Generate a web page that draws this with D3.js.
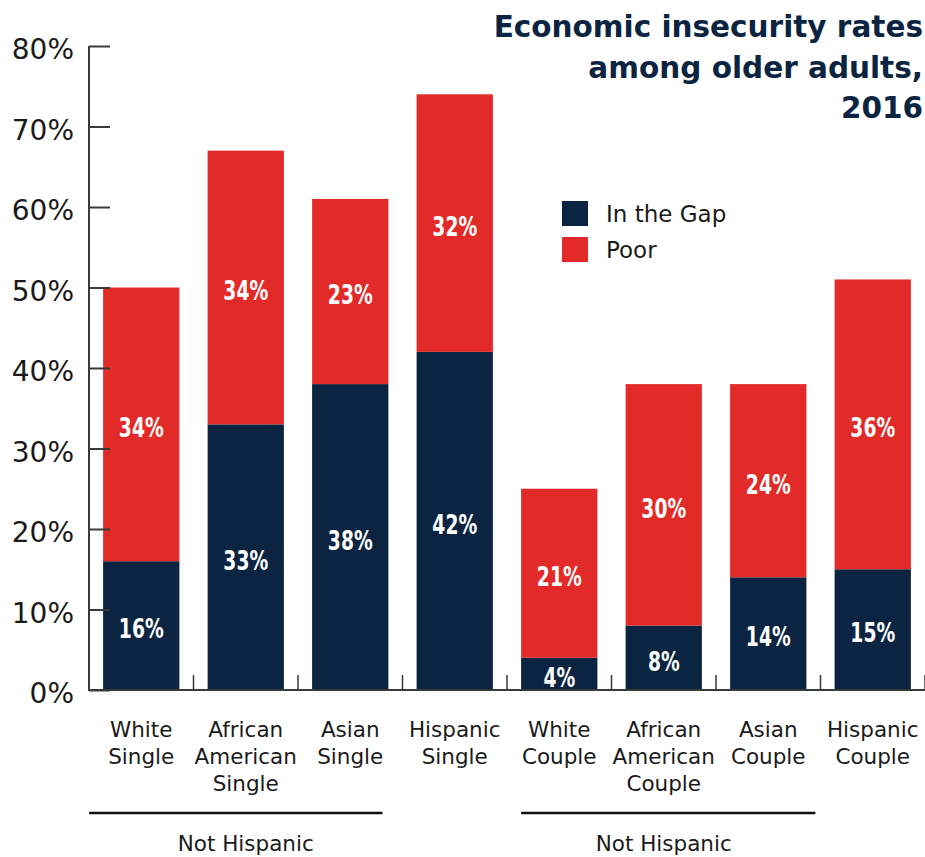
<!DOCTYPE html>
<html lang="en">
<head>
    <meta charset="UTF-8">
    <title>Economic insecurity rates</title>
    <script src="https://d3js.org/d3.v7.min.js"></script>
    <style>
        body { margin: 0; background: #fff; }
        svg { display: block; }
        .axis-text { font-family: "DejaVu Sans", sans-serif; fill: #1a1a1a; }
        .bar-label { font-family: "Liberation Sans Narrow", "DejaVu Sans Condensed", "DejaVu Sans", sans-serif;
                     font-stretch: condensed; font-weight: bold; fill: #fff; }
    </style>
</head>
<body>
<svg width="925" height="857"></svg>
<script>

    // data
    var categories = ["White Single", "African American Single", "Asian Single", "Hispanic Single",
                      "White Couple", "African American Couple", "Asian Couple", "Hispanic Couple"];
    var categoryLines = [["White", "Single"], ["African", "American", "Single"], ["Asian", "Single"], ["Hispanic", "Single"],
                         ["White", "Couple"], ["African", "American", "Couple"], ["Asian", "Couple"], ["Hispanic", "Couple"]];
    var inTheGap = [16, 33, 38, 42, 4, 8, 14, 15];
    var poor = [34, 34, 23, 32, 21, 30, 24, 36];
    var yTicks = [0, 10, 20, 30, 40, 50, 60, 70, 80];
    var seriesNames = ["In the Gap", "Poor"];
    var titleLines = ["Economic insecurity rates", "among older adults,", "2016"];
    var groups = [
        {label: "Not Hispanic", from: "White Single", to: "Asian Single"},
        {label: "Not Hispanic", from: "White Couple", to: "Asian Couple"}
    ];

    var colors = {"In the Gap": "#0b2441", "Poor": "#e22b28"};

    var svg = d3.select("svg");
    var plotLeft = 89, plotRight = 925, plotTop = 46, plotBottom = 690;

    var x = d3.scaleBand().domain(categories).range([plotLeft, plotRight])
        .paddingInner(0.27).paddingOuter(0.135);
    var y = d3.scaleLinear().domain([0, 80]).range([plotBottom, plotTop]);

    var rows = categories.map(function(c, i) {
        return {cat: c, gap: inTheGap[i], poor: poor[i]};
    });

    // stacked bars
    var stack = d3.stack().keys(["gap", "poor"])(rows);
    var layer = svg.append("g").selectAll("g")
        .data(stack)
        .enter().append("g")
        .attr("fill", function(d, i) { return colors[seriesNames[i]]; });

    layer.selectAll("rect")
        .data(function(d) { return d; })
        .enter().append("rect")
        .attr("x", function(d) { return x(d.data.cat); })
        .attr("y", function(d) { return y(d[1]); })
        .attr("width", x.bandwidth())
        .attr("height", function(d) { return y(d[0]) - y(d[1]); });

    // condensed white value labels (squeezed horizontally)
    layer.selectAll("text")
        .data(function(d) { return d; })
        .enter().append("text")
        .attr("class", "bar-label")
        .attr("transform", function(d) {
            var cx = x(d.data.cat) + x.bandwidth() / 2,
                cy = (y(d[0]) + y(d[1])) / 2 + 4;
            return "translate(" + cx + "," + cy + ") scale(0.8,1)";
        })
        .attr("text-anchor", "middle")
        .attr("dominant-baseline", "central")
        .attr("font-size", 26)
        .text(function(d) { return (d[1] - d[0]) + "%"; });

    // y axis
    var yAxis = svg.append("g")
        .attr("transform", "translate(" + plotLeft + ",0)")
        .call(d3.axisLeft(y).tickValues(yTicks).tickSize(-21).tickPadding(15)
            .tickFormat(function(d) { return d + "%"; }));
    yAxis.select(".domain").attr("stroke", "#3a3a3a").attr("stroke-width", 2)
        .attr("d", "M0," + plotTop + "V" + plotBottom);
    yAxis.selectAll(".tick line").attr("stroke", "#3a3a3a").attr("stroke-width", 2);
    yAxis.selectAll(".tick text").attr("class", "axis-text").attr("font-size", 28)
        .attr("dy", "0.45em");

    // x axis line and boundary ticks
    var step = x.step();
    svg.append("line")
        .attr("x1", plotLeft - 1).attr("x2", plotRight)
        .attr("y1", plotBottom).attr("y2", plotBottom)
        .attr("stroke", "#3a3a3a").attr("stroke-width", 2);
    svg.append("g").selectAll("line")
        .data(categories)
        .enter().append("line")
        .attr("x1", function(d) { return x(d) + x.bandwidth() / 2 + step / 2; })
        .attr("x2", function(d) { return x(d) + x.bandwidth() / 2 + step / 2; })
        .attr("y1", plotBottom).attr("y2", plotBottom - 15)
        .attr("stroke", "#3a3a3a").attr("stroke-width", 1.5);

    // category labels
    var catLabel = svg.append("g").selectAll("text")
        .data(categories)
        .enter().append("text")
        .attr("class", "axis-text")
        .attr("font-size", 21.5)
        .attr("text-anchor", "middle")
        .attr("x", function(d) { return x(d) + x.bandwidth() / 2; })
        .attr("y", 737);
    catLabel.selectAll("tspan")
        .data(function(d, i) { return categoryLines[i]; })
        .enter().append("tspan")
        .attr("x", function() { return this.parentNode.getAttribute("x"); })
        .attr("dy", function(d, i) { return i === 0 ? 0 : 27; })
        .text(function(d) { return d; });

    // group brackets
    var linePad = [[-14, -6], [0, 9]];
    groups.forEach(function(g, i) {
        var x1 = x(g.from), x2 = x(g.to) + x.bandwidth();
        svg.append("line")
            .attr("x1", x1 + linePad[i][0]).attr("x2", x2 + linePad[i][1])
            .attr("y1", 813).attr("y2", 813)
            .attr("stroke", "#111").attr("stroke-width", 2.5);
        svg.append("text")
            .attr("class", "axis-text")
            .attr("font-size", 21.5)
            .attr("text-anchor", "middle")
            .attr("x", (x1 + x2) / 2)
            .attr("y", 851)
            .text(g.label);
    });

    // legend
    var legend = svg.append("g").attr("transform", "translate(562,201)");
    legend.selectAll("rect")
        .data(seriesNames)
        .enter().append("rect")
        .attr("x", 0).attr("y", function(d, i) { return i * 36; })
        .attr("width", 26).attr("height", 25)
        .attr("fill", function(d) { return colors[d]; });
    legend.selectAll("text")
        .data(seriesNames)
        .enter().append("text")
        .attr("class", "axis-text")
        .attr("font-size", 23)
        .attr("x", 44).attr("y", function(d, i) { return i * 36 + 21; })
        .text(function(d) { return d; });

    // title
    svg.append("g").selectAll("text")
        .data(titleLines)
        .enter().append("text")
        .attr("x", 923)
        .attr("y", function(d, i) { return 37 + i * 40.5; })
        .attr("text-anchor", "end")
        .attr("font-family", "'DejaVu Sans', sans-serif")
        .attr("font-weight", "bold")
        .attr("font-size", 29.5)
        .attr("fill", "#0b2441")
        .text(function(d) { return d; });

</script>
</body>
</html>
